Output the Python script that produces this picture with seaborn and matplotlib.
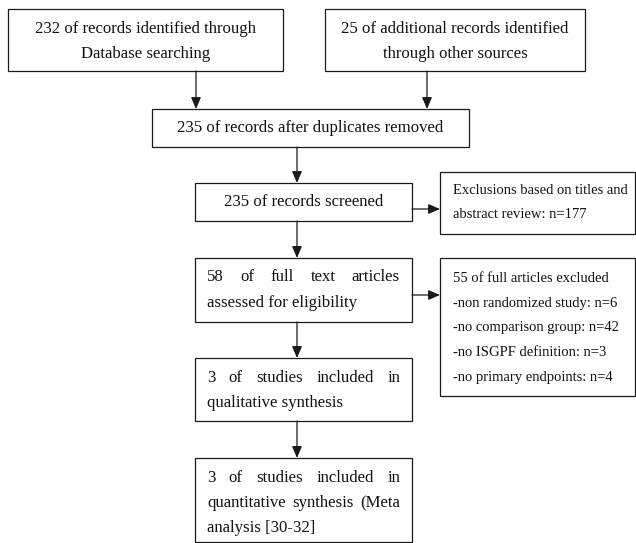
import matplotlib
matplotlib.use("Agg")
import matplotlib.pyplot as plt
import seaborn as sns
from matplotlib.patches import Rectangle

sns.set_theme(style="white")
plt.rcParams['font.family'] = ['Liberation Serif', 'DejaVu Serif']

# %% counts
n_database = 232
n_other = 25
n_deduplicated = 235
n_screened = 235
n_excluded_abstract = 177
n_fulltext = 58
n_excluded_fulltext = 55
reasons = ["non randomized study", "no comparison group",
           "no ISGPF definition", "no primary endpoints"]
reason_counts = [6, 42, 3, 4]
n_qualitative = 3
n_quantitative = 3

# %% box texts, one entry per printed line
text_db = [f"{n_database} of records identified through", "Database searching"]
text_other = [f"{n_other} of additional records identified", "through other sources"]
text_dedup = [f"{n_deduplicated} of records after duplicates removed"]
text_screened = [f"{n_screened} of records screened"]
text_excl_abs = ["Exclusions based on titles and",
                 f"abstract review: n={n_excluded_abstract}"]
text_fulltext = [f"{n_fulltext} of full text articles", "assessed for eligibility"]
text_excl_full = [f"{n_excluded_fulltext} of full articles excluded"] + \
    [f"-{r}: n={c}" for r, c in zip(reasons, reason_counts)]
text_qual = [f"{n_qualitative} of studies included in", "qualitative synthesis"]
text_quant = [f"{n_quantitative} of studies included in",
              "quantitative synthesis (Meta", "analysis [30-32]"]

# %% layout in pixels: (x0, y0, x1, y1), first line y, line step, mode, font size
BIG, SMALL = 12.1, 10.5
layout = [
    (text_db,        (8, 9, 283, 71),     29, 25, "center", BIG),
    (text_other,     (325, 9, 585, 71),   29, 25, "center", BIG),
    (text_dedup,     (152, 109, 469, 147), 128, 25, "center", BIG),
    (text_screened,  (195, 183, 412, 221), 202, 25, "center", BIG),
    (text_excl_abs,  (440, 172, 635, 234), 190, 25, "left", SMALL),
    (text_fulltext,  (195, 258, 412, 322), 277, 26, "justify", BIG),
    (text_excl_full, (440, 258, 635, 396), 278, 25, "left", SMALL),
    (text_qual,      (195, 358, 412, 421), 378, 25, "justify", BIG),
    (text_quant,     (195, 458, 412, 541.5), 478, 25, "justify", BIG),
]

arrows = [
    ((196, 71), (196, 109)),
    ((427, 71), (427, 109)),
    ((297, 147), (297, 183)),
    ((412, 209), (440, 209)),
    ((297, 221), (297, 258)),
    ((412, 295), (440, 295)),
    ((297, 322), (297, 358)),
    ((297, 421), (297, 458)),
]

edge = "#1a1a1a"
fig = plt.figure(figsize=(6.36, 5.43), dpi=100)
ax = fig.add_axes([0, 0, 1, 1])
ax.set_xlim(0, 636)
ax.set_ylim(543, 0)
ax.axis("off")
renderer = fig.canvas.get_renderer()

for lines, (x0, y0, x1, y1), ly, step, mode, size in layout:
    ax.add_patch(Rectangle((x0, y0), x1 - x0, y1 - y0, fill=False,
                           edgecolor=edge, lw=0.9))
    for i, line in enumerate(lines):
        y = ly + i * step
        if mode == "center":
            ax.text((x0 + x1) / 2, y, line, ha="center", va="center",
                    fontsize=size, color="#111111")
        elif mode == "left":
            ax.text(x0 + 13, y, line, ha="left", va="center",
                    fontsize=size, color="#111111")
        else:
            # justified lines, last line flush left
            left, right = x0 + 12, x1 - 12
            words = line.split()
            if i == len(lines) - 1 or len(words) == 1:
                ax.text(left, y, line, ha="left", va="center",
                        fontsize=size, color="#111111")
                continue
            ts = [ax.text(0, y, w, ha="left", va="center", fontsize=size,
                          color="#111111") for w in words]
            widths = [t.get_window_extent(renderer).width for t in ts]
            gap = (right - left - sum(widths)) / (len(words) - 1)
            x = left
            for t, w in zip(ts, widths):
                t.set_x(x)
                x += w + gap

for start, end in arrows:
    ax.annotate("", xy=end, xytext=start,
                arrowprops=dict(arrowstyle="-|>,head_length=0.7,head_width=0.3",
                                color=edge, lw=0.9, mutation_scale=10,
                                shrinkA=0, shrinkB=0))

fig.savefig("out.png", dpi=100)
